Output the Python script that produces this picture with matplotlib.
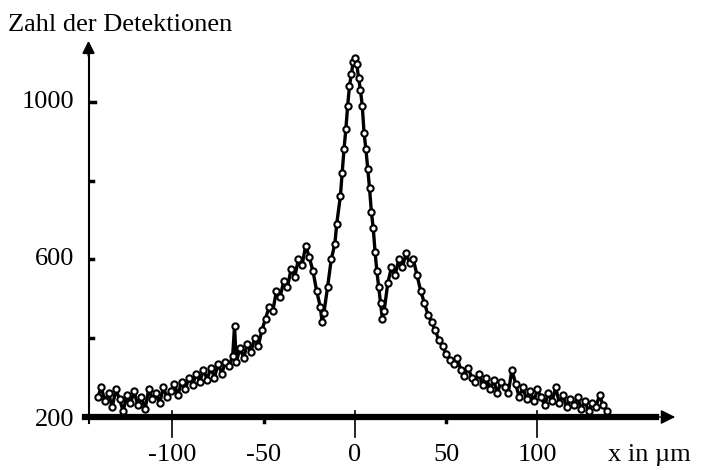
import matplotlib
matplotlib.use("Agg")
import matplotlib.pyplot as plt

plt.rcParams['font.family'] = ['Liberation Serif', 'DejaVu Serif']

x_um = [-141, -139, -137, -135, -133, -131, -129, -127, -125, -123, -121, -119,
        -117, -115, -113, -111, -109, -107, -105, -103, -101, -99, -97, -95,
        -93, -91, -89, -87, -85, -83, -81, -79, -77, -75, -73, -71, -69, -67,
        -66, -65, -63, -61, -59, -57, -55, -53, -51, -49, -47, -45, -43, -41,
        -39, -37, -35, -33, -31, -29, -27, -25, -23, -21, -19, -18, -17, -15,
        -13, -11, -10, -8, -7, -6, -5, -4, -3, -2, -1, 0, 1, 2, 3, 4, 5, 6, 7,
        8, 9, 10, 11, 12, 13, 14, 15, 16, 18, 20, 22, 24, 26, 28, 30, 32, 34,
        36, 38, 40, 42, 44, 46, 48, 50, 52, 54, 56, 58, 60, 62, 64, 66, 68, 70,
        72, 74, 76, 78, 80, 82, 84, 86, 88, 90, 92, 94, 96, 98, 100, 102, 104,
        106, 108, 110, 112, 114, 116, 118, 120, 122, 124, 126, 128, 130, 132,
        134, 136, 138]
counts = [250, 275, 240, 260, 225, 270, 245, 215, 255, 235, 265, 230,
          250, 220, 270, 245, 260, 235, 275, 250, 265, 285, 255, 290,
          270, 300, 280, 310, 290, 320, 295, 325, 300, 335, 310, 340, 330, 355,
          430, 340, 375, 350, 385, 365, 400, 380, 420, 450, 480, 470, 520, 505,
          545, 530, 575, 555, 600, 585, 635, 605, 570, 520, 480, 440, 465, 530,
          600, 640, 690, 760, 820, 880, 930, 990, 1040, 1070, 1100, 1110, 1095,
          1060, 1030, 990, 920, 880, 830,
          780, 720, 680, 620, 570, 530, 490, 450, 470, 540, 580, 560, 600, 580,
          615, 590, 600, 560,
          520, 490, 460, 440, 420, 395, 380, 360, 345, 335, 350, 320, 305, 325,
          300, 290, 310, 280,
          300, 270, 295, 260, 290, 275, 260, 320, 285, 250, 275, 245, 265, 240,
          270, 250, 230,
          260, 240, 275, 235, 255, 225, 245, 230, 250, 220, 240, 215, 235, 225,
          255, 230, 215]

x_ticks = [-100, -50, 0, 50, 100]
y_labels = [200, 600, 1000]
y_marks = [400, 600, 800, 1000]

fig = plt.figure(figsize=(7.07, 4.70), dpi=100)
ax = fig.add_axes([0, 0, 1, 1])
ax.set_xlim(-194.5, 192.9)
ax.set_ylim(65.5, 1258.4)
ax.axis('off')

# Kurve
ax.plot(x_um, counts, color='black', lw=2.4, marker='o', ms=4.5,
        mfc='white', mec='black', mew=1.5, zorder=3)

# y-Achse mit Pfeil
ax.plot([-146, -146], [185, 1120], color='black', lw=1.5)
ax.annotate('', xy=(-146, 1162), xytext=(-146, 1110),
            arrowprops=dict(arrowstyle='-|>', color='black', lw=1.5,
                            mutation_scale=18))
for v in y_marks:
    ax.plot([-145, -143.5 if v != 1000 else -142.5], [v, v],
            color='black', lw=2.5)

# x-Achse mit Pfeil
ax.plot([-148, 165], [200, 200], color='black', lw=4.5, zorder=4)
ax.annotate('', xy=(177, 200), xytext=(155, 200),
            arrowprops=dict(arrowstyle='-|>', color='black', lw=1,
                            mutation_scale=22), zorder=4)
for t in x_ticks:
    if t % 100 == 0:
        ax.plot([t, t], [215, 150], color='black', lw=1.2, zorder=4)
    else:
        ax.plot([t, t], [200, 188], color='black', lw=2.5, zorder=4)

# Beschriftungen
for v in y_labels:
    ax.text(-154, v - (8 if v == 200 else 0), str(v), ha='right', va='center',
            fontsize=19)
for t in x_ticks:
    ax.text(t, 104, str(t), ha='center', va='center', fontsize=19)
ax.text(184, 104, 'x in \u00b5m', ha='right', va='center', fontsize=19)
fig.text(8 / 707, 1 - 25 / 470, 'Zahl der Detektionen', ha='left',
         va='center', fontsize=19)

fig.savefig('out.png', dpi=100)
